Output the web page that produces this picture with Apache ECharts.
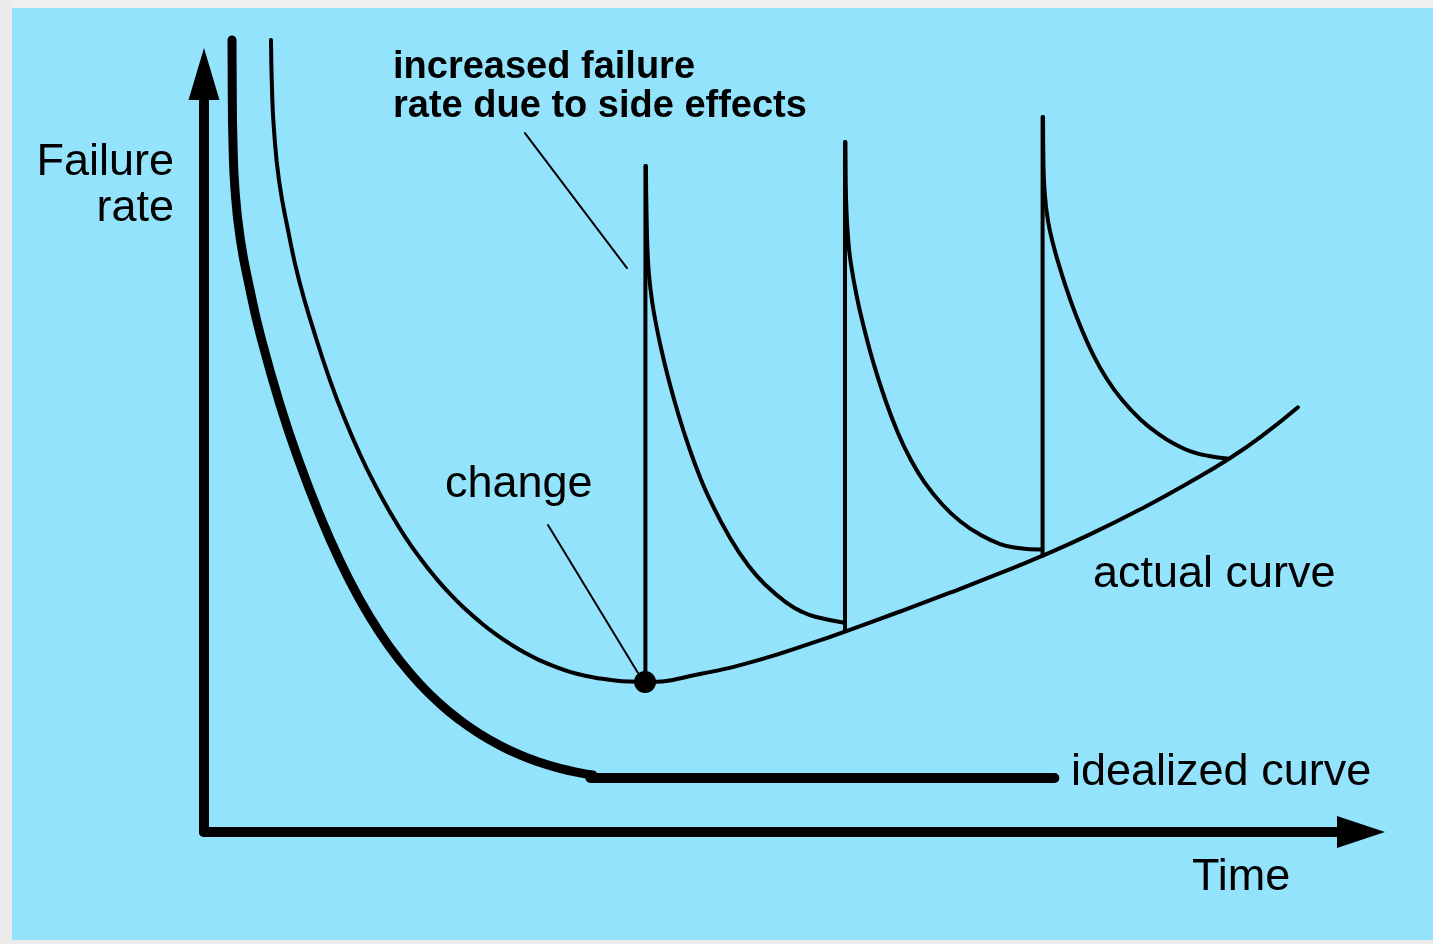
<!DOCTYPE html>
<html>
<head>
<meta charset="utf-8">
<script src="https://cdn.jsdelivr.net/npm/echarts@6/dist/echarts.min.js"></script>
<style>
html,body{margin:0;padding:0;background:#ebebeb;}
#chart{width:1433px;height:944px;}
</style>
</head>
<body>
<div id="chart"></div>
<script>
// Values in chart units: Time 0..100, Failure rate 0..100
const idealizedCurve = [[2.42,104.49],[2.44,97.89],[2.50,91.29],[2.68,84.70],[3.15,78.10],[3.98,71.50],[4.84,65.75],[6.57,56.39],[8.30,48.54],[10.03,41.71],[11.75,35.75],[13.48,30.61],[15.21,26.25],[16.94,22.59],[18.67,19.50],[20.40,16.91],[22.13,14.74],[23.85,12.93],[25.58,11.42],[27.31,10.18],[29.04,9.18],[30.77,8.39],[32.50,7.81],[33.62,7.53]];
const idealizedFlat = [[33.4,7.12],[73.5,7.12]];
const actualCurve = [[5.79,104.49],[5.88,97.89],[6.05,92.61],[6.48,86.02],[7.26,79.42],[8.21,72.82],[9.59,65.62],[10.89,59.59],[12.19,54.39],[13.48,49.84],[14.78,45.80],[16.08,42.19],[17.37,38.98],[18.67,36.15],[19.97,33.63],[21.26,31.41],[22.56,29.46],[23.85,27.72],[25.15,26.17],[26.45,24.82],[27.74,23.64],[29.04,22.64],[30.34,21.81],[31.63,21.13],[32.93,20.62],[34.23,20.25],[35.52,19.99],[36.82,19.84],[38.12,19.79],[42.87,20.84],[48.06,22.74],[52.90,25.11],[55.40,26.45],[60.16,29.09],[64.48,31.57],[68.80,34.14],[72.34,36.36],[76.58,39.26],[81.24,42.82],[85.22,46.16],[88.76,49.41],[91.70,52.55],[94.55,56.03]];
const spikeX = [38.15, 55.40, 72.48];
const spikeBase = [19.8, 26.6, 36.4];
const spikeTop = [87.86, 91.03, 94.33];
const decay1 = [[38.20,87.86],[38.25,81.40],[38.38,75.20],[38.60,71.50],[38.89,68.47],[39.46,64.12],[40.17,59.63],[40.99,55.15],[41.94,50.66],[42.80,47.10],[43.66,44.06],[45.37,39.05],[47.08,35.09],[48.63,32.45],[50.40,30.21],[51.72,29.02],[52.93,28.36],[55.23,27.64]];
const decay2 = [[55.44,91.03],[55.46,86.02],[55.53,81.93],[55.68,78.10],[55.89,75.20],[56.41,70.71],[57.09,66.23],[57.86,61.87],[58.80,57.39],[59.91,52.90],[61.01,49.34],[62.26,46.17],[63.85,43.14],[65.44,40.90],[66.99,39.31],[68.81,37.99],[70.36,37.47],[72.34,37.27]];
const decay3 = [[72.52,94.33],[72.55,88.65],[72.67,84.17],[72.95,80.61],[73.41,77.44],[74.08,73.88],[74.85,70.32],[75.74,66.75],[76.78,63.19],[77.93,60.03],[79.36,56.99],[81.09,54.22],[82.50,52.51],[83.88,51.19],[85.21,50.26],[86.85,49.60],[88.42,49.27]];
const changePoint = [[38.12,19.79]];
const leaderSideEffects = [[27.74,92.2],[36.56,74.4]];
const leaderChange = [[29.73,40.5],[37.5,21.0]];
const yAxisTitle = ['Failure', 'rate'];
const xAxisTitle = 'Time';
const noteLines = ['increased failure', 'rate due to side effects'];
const changeLabel = 'change';
const actualLabel = 'actual curve';
const idealLabel = 'idealized curve';

const chart = echarts.init(document.getElementById('chart'));
const FONT = '"Liberation Sans", Arial, sans-serif';
function lineSeries(data, width, smooth) {
  return {
    type: 'line', data: data, showSymbol: false, symbol: 'none', smooth: smooth,
    clip: false, silent: true, animation: false,
    lineStyle: { color: '#000', width: width, cap: 'round', join: 'round' }
  };
}
const series = [
  lineSeries(idealizedCurve, 9, 0.5),
  lineSeries(idealizedFlat, 10, false),
  lineSeries(actualCurve, 4, 0.5),
  lineSeries(decay1, 4, 0.5),
  lineSeries(decay2, 4, 0.5),
  lineSeries(decay3, 4, 0.5),
  lineSeries(leaderSideEffects, 2, false),
  lineSeries(leaderChange, 2, false)
];
spikeX.forEach(function (x, i) {
  series.push(lineSeries([[x, spikeBase[i]], [x, spikeTop[i]]], 4, false));
});
series.push({
  type: 'scatter', data: changePoint, symbol: 'circle', symbolSize: 22, silent: true,
  animation: false, clip: false, itemStyle: { color: '#000', opacity: 1 }
});

function txt(x, y, s, size, weight, align) {
  return {
    type: 'text', x: x, y: y, silent: true,
    style: { text: s, fill: '#000', font: weight + ' ' + size + 'px ' + FONT,
      align: align, verticalAlign: 'middle' }
  };
}

chart.setOption({
  backgroundColor: '#ebebeb',
  animation: false,
  grid: { left: 204, right: 72, top: 74, bottom: 112, containLabel: false, outerBoundsMode: 'none' },
  xAxis: {
    type: 'value', min: 0, max: 100,
    axisLine: { show: true, symbol: ['none', 'triangle'], symbolSize: [32, 48],
      lineStyle: { color: '#000', width: 10 } },
    axisTick: { show: false }, axisLabel: { show: false }, splitLine: { show: false }
  },
  yAxis: {
    type: 'value', min: 0, max: 100,
    axisLine: { show: true, symbol: ['none', 'triangle'], symbolSize: [31, 52],
      lineStyle: { color: '#000', width: 10 } },
    axisTick: { show: false }, axisLabel: { show: false }, splitLine: { show: false }
  },
  graphic: [
    { type: 'rect', z: -10, silent: true, shape: { x: 12, y: 8, width: 1421, height: 932 }, style: { fill: '#94e3fc' } },
    { type: 'rect', z: -10, silent: true, shape: { x: 12, y: 0, width: 1421, height: 8 }, style: { fill: '#f0f0f0' } },
    txt(174, 163, yAxisTitle[0], 45, 'normal', 'right'),
    txt(174, 209, yAxisTitle[1], 45, 'normal', 'right'),
    txt(393, 68, noteLines[0], 38, 'bold', 'left'),
    txt(393, 107, noteLines[1], 38, 'bold', 'left'),
    txt(445, 485, changeLabel, 45, 'normal', 'left'),
    txt(1093, 575, actualLabel, 45, 'normal', 'left'),
    txt(1071, 773, idealLabel, 45, 'normal', 'left'),
    txt(1192, 878, xAxisTitle, 45, 'normal', 'left')
  ],
  series: series
});
</script>
</body>
</html>
